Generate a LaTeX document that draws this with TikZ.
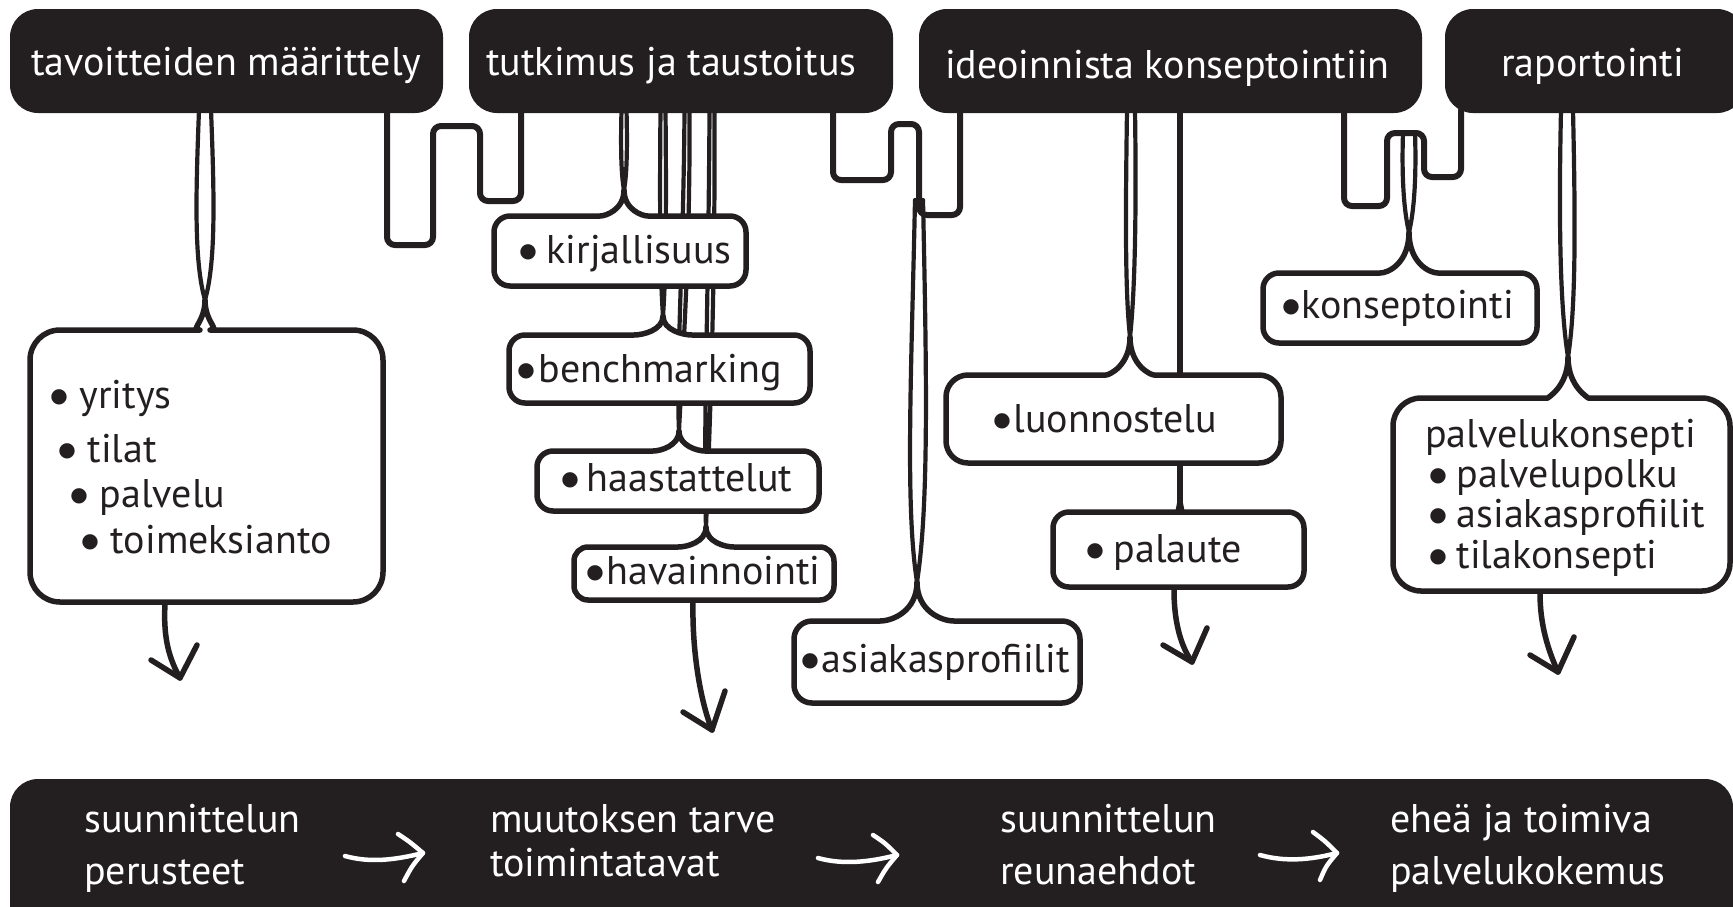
\documentclass[tikz,border=0pt]{standalone}
\usepackage{fontspec}
\setmainfont{PT Sans}
\newfontfamily\dejavu{DejaVu Sans}
\definecolor{ink}{HTML}{231F20}
\newcommand\bul[1]{\makebox[13pt][c]{\raisebox{6pt}{\fontsize{20}{20}\dejavu ●}}\hspace*{#1pt}}
\newcommand\cuspbox[8]{%
  \path[boxln, rounded corners=#8] (#5,#6)
    .. controls (#5,{#6+0.75*(#2-#6)}) and ({#5-0.45*#7},#2) .. ({#5-#7},#2)
    -- (#1,#2) -- (#1,#4) -- (#3,#4) -- (#3,#2) -- ({#5+#7},#2)
    .. controls ({#5+0.45*#7},#2) and (#5,{#6+0.75*(#2-#6)}) .. (#5,#6);
}
% stem loop: xtop gap top cx cy bulge
\newcommand\stemloop[6]{%
  \draw[stemln] ({#1-#2},#3) .. controls ({#1-#2-0.3*#6},{#3+0.45*(#5-#3)}) and ({#4-#6},{#5-0.2*(#5-#3)}) .. (#4,#5)
    .. controls ({#4+#6},{#5-0.2*(#5-#3)}) and ({#1+#2+0.3*#6},{#3+0.45*(#5-#3)}) .. ({#1+#2},#3);
}
\begin{document}
\begin{tikzpicture}[x=1pt,y=-1pt,
  hdr/.style={fill=ink, draw=none, rounded corners=28, inner sep=0},
  ht/.style={text=white, anchor=base west, inner sep=0, font=\fontsize{40}{48}\selectfont},
  bt/.style={text=ink, anchor=base west, inner sep=0, font=\fontsize{40}{48}\selectfont},
  boxln/.style={draw=ink, line width=5.5, fill=white, line join=round, line cap=round},
  stemln/.style={draw=ink, line width=4.2, line cap=round, line join=round},
  meander/.style={draw=ink, line width=6, rounded corners=8, line cap=round},
  arr/.style={draw=ink, line width=5.5, line cap=round, line join=round},
  warr/.style={draw=white, line width=4.5, line cap=round, line join=round}]
\useasboundingbox (0,0) rectangle (1733,906);

% bottom bar
\fill[ink, rounded corners=28] (10,910) -- (10,779) -- (1733,779) -- (1733,910);

% stems
\stemloop{205}{6}{110}{205}{300}{11}
\stemloop{624}{2.5}{110}{624}{190}{3}
\stemloop{663}{2.5}{110}{663}{316}{3}
\stemloop{687}{2.5}{110}{679}{431}{3}
\stemloop{712}{2.5}{110}{706}{527}{3}
\stemloop{919}{4}{200}{917}{582}{12}
\stemloop{1131}{4}{110}{1130}{337}{5}
\stemloop{1409}{6}{133}{1409}{232}{5}
\stemloop{1567}{6}{110}{1568}{357}{8}
\draw[arr] (1180,110) -- (1180,500);

% meanders
\draw[meander] (387,110) -- (387,245) -- (433,245) -- (433,126) -- (480,126) -- (480,201) -- (521,201) -- (521,110);
\draw[meander] (833,110) -- (833,180) -- (891,180) -- (891,124) -- (919,124) -- (919,215) -- (960,215) -- (960,110);
\draw[meander] (1344,110) -- (1344,206) -- (1387,206) -- (1387,133) -- (1424,133) -- (1424,177) -- (1461,177) -- (1461,110);

% headers
\node[hdr, minimum width=433, minimum height=104] (h1) at (226.5,61) {};
\node[hdr, minimum width=424, minimum height=104] (h2) at (681,61) {};
\node[hdr, minimum width=503, minimum height=104] (h3) at (1170.5,61) {};
\node[hdr, minimum width=300, minimum height=104] (h4) at (1595,61) {};
\node[ht] (t1) at (31,75) {tavoitteiden määrittely};
\node[ht] (t2) at (486,75) {tutkimus ja taustoitus};
\node[ht] (t3) at (945,78) {ideoinnista konseptointiin};
\node[ht] (t4) at (1501,76) {raportointi};

% boxes
\cuspbox{30}{330}{383}{602}{205}{300}{35}{30}
\cuspbox{494}{216}{746}{286}{624}{190}{40}{16}
\cuspbox{509}{335}{810}{403}{663}{316}{45}{16}
\cuspbox{537}{451}{819}{511}{679}{431}{42}{16}
\cuspbox{574}{547}{834}{600}{706}{527}{42}{14}
\cuspbox{794}{621}{1080}{703}{917}{582}{55}{18}
\cuspbox{946}{375}{1281}{463}{1130}{337}{46}{22}
\cuspbox{1053}{512}{1304}{587}{1180}{500}{12}{16}
\cuspbox{1263}{273}{1537}{343}{1409}{232}{45}{16}
\cuspbox{1393}{398}{1730}{591}{1568}{357}{48}{28}

% box texts
\node[bt] (y1) at (52.5,408) {\bul{14}yritys};
\node[bt] (y2) at (60.5,462) {\bul{14}tilat};
\node[bt] (y3) at (72.5,507) {\bul{14}palvelu};
\node[bt] (y4) at (83.5,553) {\bul{14}toimeksianto};
\node[bt] (k) at (521.5,263) {\bul{12}kirjallisuus};
\node[bt] (b) at (519.5,382) {\bul{6}benchmarking};
\node[bt] (ha) at (563.5,491) {\bul{10}haastattelut};
\node[bt] (hv) at (588.5,584) {\bul{5}havainnointi};
\node[bt] (ap) at (803.5,672) {\bul{5}asiakasprofiilit};
\node[bt] (lu) at (995.5,432) {\bul{5}luonnostelu};
\node[bt] (pa) at (1088.5,562) {\bul{12}palaute};
\node[bt] (ko) at (1284.5,318) {\bul{4}konseptointi};
\node[bt] (pk) at (1425,447) {palvelukonsepti};
\node[bt] (pp) at (1431.5,487) {\bul{12}palvelupolku};
\node[bt] (pr) at (1431.5,527) {\bul{12}asiakasprofiilit};
\node[bt] (tk) at (1431.5,568) {\bul{12}tilakonsepti};

% arrows
\coordinate (a1s) at (165,604); \coordinate (a1e) at (180,678);
\draw[arr] (a1s) .. controls (163,640) and (170,660) .. (a1e);
\draw[arr] (151,660) -- (a1e) -- (197,645);
\coordinate (a2s) at (693,602); \coordinate (a2e) at (712,730);
\draw[arr] (a2s) .. controls (692,650) and (700,700) .. (a2e);
\draw[arr] (683,712) -- (a2e) -- (725,691);
\coordinate (a3s) at (1174,590); \coordinate (a3e) at (1192,662);
\draw[arr] (a3s) .. controls (1174,620) and (1180,645) .. (a3e);
\draw[arr] (1163,645) -- (a3e) -- (1207,628);
\coordinate (a4s) at (1540,593); \coordinate (a4e) at (1558,672);
\draw[arr] (a4s) .. controls (1540,625) and (1548,650) .. (a4e);
\draw[arr] (1530,655) -- (a4e) -- (1574,637);

% bottom texts
\node[ht] (s1) at (84,832) {suunnittelun};
\node[ht] (s2) at (84,884) {perusteet};
\node[ht] (m1) at (490,832) {muutoksen tarve};
\node[ht] (m2) at (490,876) {toimintatavat};
\node[ht] (r1) at (1000,832) {suunnittelun};
\node[ht] (r2) at (1000,884) {reunaehdot};
\node[ht] (e1) at (1390,832) {eheä ja toimiva};
\node[ht] (e2) at (1390,884) {palvelukokemus};

% bottom arrows
\coordinate (w1s) at (345,856); \coordinate (w1e) at (423,853);
\draw[warr] (w1s) .. controls (370,863) and (395,860) .. (w1e);
\draw[warr] (398,834) .. controls (410,842) .. (w1e) .. controls (412,866) .. (404,881);
\coordinate (w2s) at (818,858); \coordinate (w2e) at (897,855);
\draw[warr] (w2s) .. controls (843,865) and (870,862) .. (w2e);
\draw[warr] (873,835) .. controls (885,843) .. (w2e) .. controls (886,868) .. (878,882);
\coordinate (w3s) at (1260,855); \coordinate (w3e) at (1337,853);
\draw[warr] (w3s) .. controls (1285,862) and (1310,860) .. (w3e);
\draw[warr] (1313,832) .. controls (1325,841) .. (w3e) .. controls (1326,866) .. (1320,880);
\end{tikzpicture}
\end{document}
